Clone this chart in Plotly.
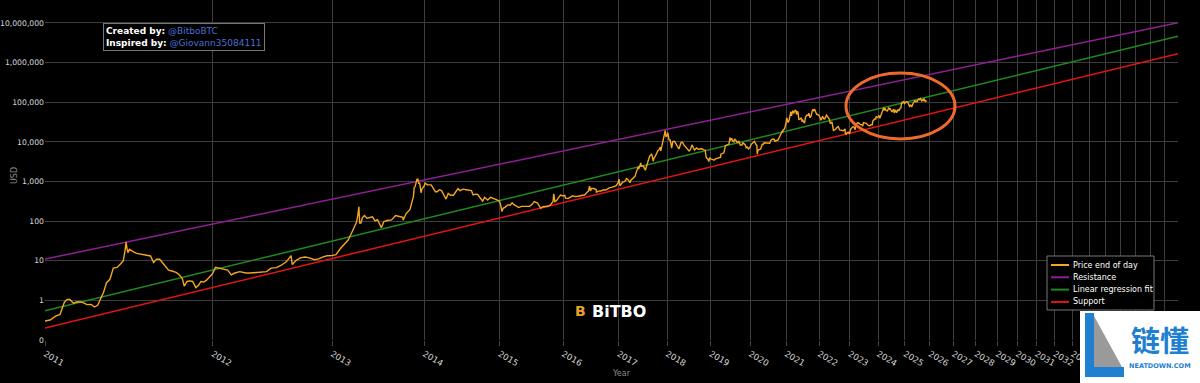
import numpy as np
import pandas as pd
import plotly.graph_objects as go

GENESIS = pd.Timestamp("2009-01-03")

# ---------------- data ----------------
price_dates = [
 "2011-01-01","2011-01-10","2011-01-20","2011-01-28","2011-02-05","2011-02-10","2011-02-15","2011-02-22",
 "2011-03-01","2011-03-10","2011-03-20","2011-03-28","2011-04-04","2011-04-10","2011-04-16","2011-04-22",
 "2011-04-28","2011-05-05","2011-05-12","2011-05-20","2011-05-28","2011-06-02","2011-06-06","2011-06-08",
 "2011-06-10","2011-06-12","2011-06-15","2011-06-20","2011-06-25","2011-07-01","2011-07-10","2011-07-20",
 "2011-08-01","2011-08-08","2011-08-15","2011-08-22","2011-08-31","2011-09-06","2011-09-12","2011-09-20",
 "2011-09-30","2011-10-07","2011-10-15","2011-10-20","2011-10-27","2011-11-03","2011-11-10","2011-11-18",
 "2011-11-25","2011-12-01","2011-12-08","2011-12-15","2011-12-22","2011-12-31",
 "2012-01-08","2012-01-15","2012-01-22","2012-02-01","2012-02-10","2012-02-20","2012-03-01","2012-03-15",
 "2012-04-01","2012-04-15","2012-05-01","2012-05-15","2012-06-01","2012-06-15","2012-07-01","2012-07-15",
 "2012-08-01","2012-08-16","2012-08-20","2012-09-01","2012-09-15","2012-10-01","2012-10-15","2012-11-01",
 "2012-11-15","2012-12-01","2012-12-15","2012-12-31",
 "2013-01-15","2013-01-31","2013-02-15","2013-02-28","2013-03-10","2013-03-20","2013-03-31","2013-04-05",
 "2013-04-09","2013-04-12","2013-04-17","2013-04-22","2013-04-30","2013-05-10","2013-05-20","2013-05-31",
 "2013-06-10","2013-06-20","2013-07-05","2013-07-15","2013-08-01","2013-08-15","2013-09-01","2013-09-15",
 "2013-10-01","2013-10-02","2013-10-15","2013-10-31","2013-11-07","2013-11-15","2013-11-18","2013-11-22",
 "2013-11-30","2013-12-04","2013-12-08","2013-12-12","2013-12-18","2013-12-22","2013-12-31",
 "2014-01-05","2014-01-15","2014-01-25","2014-02-01","2014-02-10","2014-02-20","2014-02-28","2014-03-10",
 "2014-03-20","2014-03-31","2014-04-10","2014-04-20","2014-05-01","2014-05-15","2014-05-31","2014-06-05",
 "2014-06-15","2014-06-30","2014-07-15","2014-07-31","2014-08-10","2014-08-18","2014-08-31","2014-09-10",
 "2014-09-22","2014-10-05","2014-10-15","2014-10-31","2014-11-15","2014-11-30","2014-12-15","2014-12-31",
 "2015-01-05","2015-01-14","2015-01-20","2015-01-31","2015-02-15","2015-02-28","2015-03-10","2015-03-20",
 "2015-03-31","2015-04-15","2015-04-30","2015-05-15","2015-05-31","2015-06-15","2015-06-30","2015-07-12",
 "2015-07-31","2015-08-18","2015-08-31","2015-09-15","2015-09-30","2015-10-15","2015-10-31","2015-11-04",
 "2015-11-11","2015-11-20","2015-11-30","2015-12-15","2015-12-31",
 "2016-01-10","2016-01-15","2016-01-31","2016-02-15","2016-02-29","2016-03-15","2016-03-31","2016-04-15",
 "2016-04-30","2016-05-15","2016-05-31","2016-06-10","2016-06-17","2016-06-23","2016-06-30","2016-07-15",
 "2016-07-31","2016-08-02","2016-08-15","2016-08-31","2016-09-15","2016-09-30","2016-10-15","2016-10-31",
 "2016-11-15","2016-11-30","2016-12-15","2016-12-31",
 "2017-01-04","2017-01-11","2017-01-20","2017-01-31","2017-02-15","2017-02-28","2017-03-10","2017-03-24",
 "2017-03-31","2017-04-15","2017-04-30","2017-05-10","2017-05-25","2017-05-27","2017-06-12","2017-06-15",
 "2017-06-30","2017-07-16","2017-07-25","2017-08-05","2017-08-17","2017-08-31","2017-09-02","2017-09-14",
 "2017-09-20","2017-09-30","2017-10-12","2017-10-20","2017-10-31","2017-11-08","2017-11-12","2017-11-20",
 "2017-11-29","2017-12-07","2017-12-17","2017-12-22","2017-12-31",
 "2018-01-06","2018-01-16","2018-01-25","2018-02-06","2018-02-15","2018-02-28","2018-03-10","2018-03-18",
 "2018-03-31","2018-04-06","2018-04-24","2018-05-05","2018-05-15","2018-05-31","2018-06-15","2018-06-29",
 "2018-07-10","2018-07-24","2018-08-05","2018-08-14","2018-08-31","2018-09-15","2018-09-30","2018-10-15",
 "2018-10-31","2018-11-14","2018-11-20","2018-11-25","2018-12-05","2018-12-15","2018-12-24","2018-12-31",
 "2019-01-15","2019-01-31","2019-02-08","2019-02-24","2019-03-15","2019-03-31","2019-04-02","2019-04-15",
 "2019-04-30","2019-05-14","2019-05-31","2019-06-15","2019-06-26","2019-06-30","2019-07-10","2019-07-20",
 "2019-07-31","2019-08-06","2019-08-20","2019-08-31","2019-09-15","2019-09-24","2019-09-30","2019-10-15",
 "2019-10-25","2019-10-31","2019-11-15","2019-11-25","2019-12-05","2019-12-17","2019-12-31",
 "2020-01-15","2020-01-31","2020-02-13","2020-02-29","2020-03-08","2020-03-12","2020-03-20","2020-03-31",
 "2020-04-15","2020-04-30","2020-05-10","2020-05-20","2020-05-31","2020-06-15","2020-06-30","2020-07-15",
 "2020-07-28","2020-08-15","2020-08-31","2020-09-05","2020-09-20","2020-09-30","2020-10-10","2020-10-21",
 "2020-10-31","2020-11-15","2020-11-24","2020-11-26","2020-11-30","2020-12-16","2020-12-31",
 "2021-01-08","2021-01-15","2021-01-22","2021-01-31","2021-02-08","2021-02-21","2021-02-28","2021-03-13",
 "2021-03-25","2021-03-31","2021-04-14","2021-04-25","2021-04-30","2021-05-10","2021-05-19","2021-05-31",
 "2021-06-15","2021-06-22","2021-06-30","2021-07-20","2021-07-31","2021-08-15","2021-08-31","2021-09-06",
 "2021-09-21","2021-09-30","2021-10-20","2021-10-31","2021-11-10","2021-11-20","2021-11-30","2021-12-04",
 "2021-12-15","2021-12-31",
 "2022-01-10","2022-01-22","2022-01-31","2022-02-10","2022-02-24","2022-03-07","2022-03-28","2022-04-15",
 "2022-04-30","2022-05-12","2022-05-31","2022-06-13","2022-06-18","2022-06-30","2022-07-15","2022-07-31",
 "2022-08-14","2022-08-31","2022-09-15","2022-09-30","2022-10-15","2022-10-31","2022-11-05","2022-11-09",
 "2022-11-21","2022-11-30","2022-12-15","2022-12-31",
 "2023-01-14","2023-01-31","2023-02-15","2023-02-28","2023-03-10","2023-03-20","2023-03-31","2023-04-14",
 "2023-04-30","2023-05-15","2023-05-31","2023-06-15","2023-06-23","2023-06-30","2023-07-15","2023-07-31",
 "2023-08-17","2023-08-31","2023-09-11","2023-09-30","2023-10-15","2023-10-24","2023-10-31","2023-11-15",
 "2023-11-30","2023-12-05","2023-12-18","2023-12-31",
 "2024-01-11","2024-01-23","2024-01-31","2024-02-15","2024-02-29","2024-03-14","2024-03-20","2024-03-31",
 "2024-04-17","2024-04-30","2024-05-01","2024-05-20","2024-05-31","2024-06-07","2024-06-24","2024-06-30",
 "2024-07-05","2024-07-29","2024-07-31","2024-08-05","2024-08-24","2024-08-31","2024-09-06","2024-09-27",
 "2024-09-30","2024-10-10","2024-10-29","2024-10-31","2024-11-05","2024-11-13","2024-11-22","2024-11-30",
 "2024-12-05","2024-12-17","2024-12-30",
 "2025-01-07","2025-01-13","2025-01-20","2025-01-31","2025-02-15","2025-02-28","2025-03-10","2025-03-20",
 "2025-03-31","2025-04-08","2025-04-22","2025-04-30","2025-05-12","2025-05-22","2025-05-31","2025-06-15",
 "2025-06-22","2025-06-30","2025-07-14","2025-07-31","2025-08-13","2025-08-31","2025-09-15","2025-09-25",
 "2025-09-30","2025-10-06","2025-10-10","2025-10-17","2025-10-25","2025-11-01","2025-11-05",
]
price_usd = [
 0.30,0.32,0.40,0.44,0.90,1.06,1.05,0.85,
 0.92,0.90,0.78,0.79,0.68,0.75,1.10,1.60,
 2.80,3.40,6.50,6.80,8.50,10.0,19.0,29.6,
 20.0,16.0,19.5,17.5,16.5,15.4,14.8,13.8,
 13.2,9.0,11.0,10.9,8.2,6.8,5.8,5.5,
 5.1,4.5,3.6,2.3,3.0,3.1,3.0,2.1,
 2.4,3.0,2.9,3.2,3.9,4.7,
 6.8,6.6,6.3,5.9,5.8,4.4,4.9,5.3,
 4.9,4.9,5.0,5.0,5.3,6.5,6.7,7.6,
 9.4,13.5,8.0,10.1,11.8,12.4,11.8,10.6,
 11.1,12.5,13.4,13.5,
 14.2,20.4,27.0,33.4,46,66,93,142,
 230,90,90,121,139,118,122,128,
 101,108,68,98,105,107,138,134,
 125,105,155,198,290,420,700,740,
 1130,1150,900,900,520,640,760,
 910,830,830,820,680,550,550,620,
 590,440,360,500,450,450,630,660,
 590,640,620,585,590,460,480,470,
 400,320,400,340,400,380,350,320,
 275,175,210,225,255,255,290,260,
 245,220,235,237,230,235,265,310,
 285,210,230,230,237,255,315,490,
 310,325,380,455,430,
 450,380,370,405,437,415,416,430,
 450,455,530,575,760,580,670,665,
 625,540,570,575,610,610,640,700,
 710,745,780,960,
 1150,780,890,965,1010,1190,1110,930,
 1080,1180,1350,1750,2400,2050,2950,2440,
 2480,1930,2550,3200,4300,4700,4950,3250,
 3900,4340,5400,6000,6450,7400,5900,8200,
 9900,16500,19400,13800,14150,
 17200,11300,11200,6950,10100,10300,9300,8200,
 6900,6600,9700,9800,8500,7500,6500,5900,
 6350,8400,7000,6200,7000,6500,6600,6700,
 6300,6200,4500,3900,3800,3200,4000,3700,
 3600,3450,3650,3800,3900,4100,4900,5050,
 5300,8000,8550,8800,12900,10800,12300,10500,
 10000,11800,10800,9600,10300,8500,8300,8300,
 9500,9150,8500,7150,7400,6650,7200,
 8800,9350,10300,8550,8100,4900,6200,6400,
 6650,8650,8600,9500,9450,9450,9150,9200,
 11000,11850,11650,10100,10900,10800,11300,12800,
 13800,16000,19150,17100,19700,21300,29000,
 40600,36800,30900,33100,46200,57500,45200,61200,
 52300,58800,63500,49000,57700,55800,37000,37300,
 40500,32500,35000,29800,41500,47000,47100,52700,
 40700,43800,66000,61300,67500,59000,57000,49200,
 48900,46300,
 41800,35100,38500,44000,38300,38000,47100,40500,
 37700,29000,31800,22500,19000,19900,20800,23300,
 24300,20000,19700,19400,19100,20500,21300,15900,
 15800,17100,17400,16500,
 20900,23100,24300,23100,20200,28000,28500,30500,
 29300,27200,27200,25100,30600,30500,30300,29200,
 26600,26000,25200,27000,26900,34000,34600,37800,
 37700,44000,41400,42300,
 46600,39500,42600,51800,61200,73100,62000,71300,
 61300,60600,58300,71400,67500,71000,60300,62700,
 56700,66800,64600,54000,64100,59000,54000,65800,
 63300,60300,72700,70200,69400,90000,98900,96400,
 98800,106100,92700,
 96900,94500,102000,102400,97500,84300,78500,84200,
 82500,76300,93400,94200,102800,111700,104600,105500,
 101000,107100,119800,115700,123300,108200,115300,109000,
 114000,124700,113200,106500,111500,110000,101300,
]

# power-law channel lines (two end points each)
line_dates = ["2011-01-01", "2040-01-01"]
resistance_usd = [11.0, 10.2e6]
regression_usd = [0.55, 4.6e6]
support_usd = [0.20, 1.68e6]

tick_years = list(range(2011, 2041))
y_tickvals = [0.1, 1, 10, 100, 1000, 10000, 100000, 1000000, 10000000]
y_ticktext = ["0", "1", "10", "100", "1,000", "10,000", "100,000", "1,000,000", "10,000,000"]

# ---------------- helpers ----------------
def days_since_genesis(dates):
    return ((pd.to_datetime(pd.Series(dates)) - GENESIS).dt.days).to_numpy()

W, H = 1200, 383
ML, MR, MT, MB = 45, 22, 0, 43
PW, PH = W - ML - MR, H - MT - MB

def px(x):
    return (x - ML) / PW

def py(y):
    return (MT + PH - y) / PH

FONT = "DejaVu Sans"
C_PRICE = "#f5a623"
C_RES = "#8e1f96"
C_REG = "#1f8a1f"
C_SUP = "#e31414"

fig = go.Figure()
lx = days_since_genesis(line_dates)
fig.add_trace(go.Scatter(x=lx, y=resistance_usd, mode="lines", name="Resistance",
                         line=dict(color=C_RES, width=1.5), showlegend=False))
fig.add_trace(go.Scatter(x=lx, y=regression_usd, mode="lines", name="Linear regression fit",
                         line=dict(color=C_REG, width=1.5), showlegend=False))
fig.add_trace(go.Scatter(x=lx, y=support_usd, mode="lines", name="Support",
                         line=dict(color=C_SUP, width=1.5), showlegend=False))
fig.add_trace(go.Scatter(x=days_since_genesis(price_dates), y=price_usd, mode="lines",
                         name="Price end of day", line=dict(color=C_PRICE, width=1.4),
                         showlegend=False))

tickdays = days_since_genesis([f"{y}-01-01" for y in tick_years])
x0 = days_since_genesis(["2011-01-01"])[0]
x1 = days_since_genesis(["2040-01-01"])[0]

fig.update_xaxes(type="log", range=[np.log10(x0), np.log10(x1)], automargin=False,
                 tickmode="array", tickvals=tickdays, ticktext=[str(y) for y in tick_years],
                 tickangle=30, ticks="outside", ticklen=5, tickcolor="#444",
                 showgrid=True, gridcolor="#3d3d3d", gridwidth=1, zeroline=False, showline=False,
                 tickfont=dict(family=FONT, size=8.5, color="#d8d8d8"))
fig.update_yaxes(type="log", range=[-1, 7.58], automargin=False,
                 tickmode="array", tickvals=y_tickvals, ticktext=y_ticktext,
                 showgrid=True, gridcolor="#3d3d3d", gridwidth=1, zeroline=False, showline=False,
                 ticks="", tickfont=dict(family=FONT, size=7.7, color="#d8d8d8"))

shapes = []
annotations = []

# axis titles
annotations.append(dict(xref="paper", yref="paper", x=px(15), y=py(176), xanchor="center", yanchor="middle",
                        text="USD", textangle=-90, showarrow=False,
                        font=dict(family=FONT, size=8, color="#8a8a8a")))
annotations.append(dict(xref="paper", yref="paper", x=px(622), y=py(373), xanchor="center", yanchor="middle",
                        text="Year", showarrow=False,
                        font=dict(family=FONT, size=8, color="#8a8a8a")))

# credit box
annotations.append(dict(
    xref="paper", yref="paper", x=px(103), y=py(23), xanchor="left", yanchor="top",
    text="<b>Created by:</b> <span style='color:#4a6fd6'>@BitboBTC</span><br>"
         "<b>Inspired by:</b> <span style='color:#4a6fd6'>@Giovann35084111</span>",
    align="left", showarrow=False, font=dict(family=FONT, size=9, color="white"),
    bgcolor="black", bordercolor="#777", borderwidth=1, borderpad=2))

# highlight ellipse
shapes.append(dict(type="circle", xref="paper", yref="paper",
                   x0=px(846), x1=px(955), y0=py(139), y1=py(73),
                   line=dict(color="#ee6a2c", width=3)))

# BITBO logo
annotations.append(dict(xref="paper", yref="paper", x=px(580), y=py(311), xanchor="center", yanchor="middle",
                        text="<b>B</b>", showarrow=False,
                        font=dict(family=FONT, size=14, color="#e8a02c")))
annotations.append(dict(xref="paper", yref="paper", x=px(590), y=py(311), xanchor="left", yanchor="middle",
                        text="<b>BiTBO</b>", showarrow=False,
                        font=dict(family=FONT, size=16, color="white")))

# legend (drawn)
shapes.append(dict(type="rect", xref="paper", yref="paper", x0=px(1047), x1=px(1154), y0=py(310), y1=py(256),
                   fillcolor="black", line=dict(color="#777", width=1), layer="above"))
leg_items = [("Price end of day", C_PRICE), ("Resistance", C_RES),
             ("Linear regression fit", C_REG), ("Support", C_SUP)]
for i, (name, col) in enumerate(leg_items):
    yy = 265 + i * 12.3
    shapes.append(dict(type="line", xref="paper", yref="paper", x0=px(1051), x1=px(1069),
                       y0=py(yy), y1=py(yy), line=dict(color=col, width=2), layer="above"))
    annotations.append(dict(xref="paper", yref="paper", x=px(1071), y=py(yy), xanchor="left",
                            yanchor="middle", text=name, showarrow=False,
                            font=dict(family=FONT, size=8, color="white")))

# watermark
shapes.append(dict(type="rect", xref="paper", yref="paper", x0=px(1080), x1=px(1200), y0=py(383), y1=py(311),
                   fillcolor="white", line=dict(width=0), layer="above"))
shapes.append(dict(type="path", xref="paper", yref="paper",
                   path=f"M {px(1094)},{py(316)} L {px(1094)},{py(367)} L {px(1122)},{py(367)} Z",
                   fillcolor="#9a9a9a", line=dict(width=0), layer="above"))
shapes.append(dict(type="rect", xref="paper", yref="paper", x0=px(1085), x1=px(1094), y0=py(377), y1=py(313),
                   fillcolor="#1f7fd0", line=dict(width=0), layer="above"))
shapes.append(dict(type="rect", xref="paper", yref="paper", x0=px(1085), x1=px(1124), y0=py(377), y1=py(367),
                   fillcolor="#1f7fd0", line=dict(width=0), layer="above"))
annotations.append(dict(xref="paper", yref="paper", x=px(1160), y=py(339), xanchor="center", yanchor="middle",
                        text="<b>链懂</b>", showarrow=False,
                        font=dict(family="Noto Sans CJK SC", size=29, color="#1f7fd0")))
annotations.append(dict(xref="paper", yref="paper", x=px(1160), y=py(366), xanchor="center", yanchor="middle",
                        text="<b>NEATDOWN.COM</b>", showarrow=False,
                        font=dict(family=FONT, size=6.5, color="#1f7fd0")))

fig.update_layout(
    width=W, height=H,
    margin=dict(l=ML, r=MR, t=MT, b=MB, pad=0),
    paper_bgcolor="black", plot_bgcolor="black",
    showlegend=False, hovermode=False,
    shapes=shapes, annotations=annotations,
    font=dict(family=FONT, color="#d8d8d8"),
)

fig.write_html("out.html", config={"displayModeBar": False},
               post_script="document.body.style.margin='0px';document.body.style.background='black';")
